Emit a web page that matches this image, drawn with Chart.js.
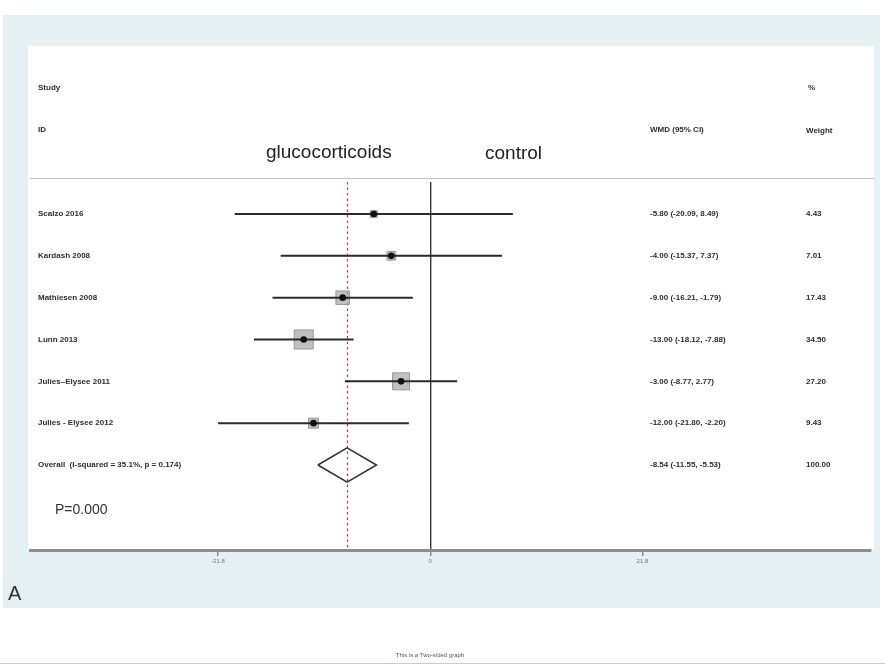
<!DOCTYPE html>
<html>
<head>
<meta charset="utf-8">
<script src="https://cdn.jsdelivr.net/npm/chart.js@4.4.1/dist/chart.umd.min.js"></script>
<style>
  html, body { margin: 0; padding: 0; background: #fff; }
  canvas { display: block; }
</style>
</head>
<body>
<canvas id="forest" width="885" height="664"></canvas>
<script>
// ---- data ----
const studies = ['Scalzo 2016', 'Kardash 2008', 'Mathiesen 2008', 'Lunn 2013', 'Julies\u2013Elysee 2011', 'Julies - Elysee 2012'];
const wmd = [-5.80, -4.00, -9.00, -13.00, -3.00, -12.00];
const ciLow = [-20.09, -15.37, -16.21, -18.12, -8.77, -21.80];
const ciHigh = [8.49, 7.37, -1.79, -7.88, 2.77, -2.20];
const weights = [4.43, 7.01, 17.43, 34.50, 27.20, 9.43];
const overallLabel = 'Overall  (I-squared = 35.1%, p = 0.174)';
const overallEst = [-8.54];
const overallLow = [-11.55];
const overallHigh = [-5.53];
const overallWeight = [100.00];
const xTicks = [-21.8, 0, 21.8];
const xTickLabels = ['-21.8', '0', '21.8'];

// row positions (1..6 studies, 7 = overall)
const rows = studies.map((s, i) => i + 1);
const overallRow = studies.length + 1;

const fmt = v => v.toFixed(2);
const ciText = (e, l, h) => fmt(e) + ' (' + fmt(l) + ', ' + fmt(h) + ')';

const boxScale = 2.3;   // point radius per sqrt(weight)
const diamondHalf = 0.41;

const boxData = rows.map((r, i) => ({ x: wmd[i], y: r }));
const dotData = rows.map((r, i) => ({ x: wmd[i], y: r }));
const diamondData = [
  { x: overallLow[0], y: overallRow },
  { x: overallEst[0], y: overallRow - diamondHalf },
  { x: overallHigh[0], y: overallRow },
  { x: overallEst[0], y: overallRow + diamondHalf },
  { x: overallLow[0], y: overallRow }
];

const FONT = '"Liberation Sans", Arial, sans-serif';

const forestPlugin = {
  id: 'forestPlugin',
  beforeDraw(chart) {
    const c = chart.ctx;
    c.save();
    c.fillStyle = '#ffffff';
    c.fillRect(0, 0, chart.width, chart.height);
    c.fillStyle = '#e4f0f1';
    c.fillRect(3, 15, 877, 593);
    c.fillStyle = '#ffffff';
    c.fillRect(28, 46, 846, 504);
    // header rule
    c.strokeStyle = '#c8c8c8';
    c.lineWidth = 1;
    c.beginPath();
    c.moveTo(30, 178.5);
    c.lineTo(874, 178.5);
    c.stroke();
    // thin pink line at the bottom
    c.strokeStyle = '#ebbcbc';
    c.beginPath();
    c.moveTo(0, 663.5);
    c.lineTo(885, 663.5);
    c.stroke();
    c.restore();
  },
  beforeDatasetsDraw(chart) {
    const c = chart.ctx;
    const xs = chart.scales.x;
    const area = chart.chartArea;
    const px = Math.round(xs.getPixelForValue(overallEst[0])) + 0.5;
    c.save();
    c.strokeStyle = '#b8453a';
    c.lineWidth = 1.2;
    c.setLineDash([2.5, 3]);
    c.beginPath();
    c.moveTo(px, area.top);
    c.lineTo(px, area.bottom);
    c.stroke();
    c.restore();
  },
  afterDatasetDraw(chart, args) {
    if (args.meta.label !== 'boxes') return;
    const c = chart.ctx;
    const xs = chart.scales.x, ys = chart.scales.y;
    c.save();
    c.strokeStyle = '#2a2a2a';
    c.lineWidth = 2;
    rows.forEach((r, i) => {
      const y = ys.getPixelForValue(r);
      c.beginPath();
      c.moveTo(xs.getPixelForValue(ciLow[i]), y);
      c.lineTo(xs.getPixelForValue(ciHigh[i]), y);
      c.stroke();
    });
    c.restore();
  },
  afterDraw(chart) {
    const c = chart.ctx;
    const ys = chart.scales.y;
    c.save();
    c.fillStyle = '#2e2e2e';
    c.textBaseline = 'middle';
    c.textAlign = 'left';
    c.font = 'bold 8px ' + FONT;
    c.fillText('Study', 38, 88);
    c.fillText('ID', 38, 130);
    c.fillText('%', 808, 88);
    c.fillText('WMD (95% CI)', 650, 130);
    c.fillText('Weight', 806, 131);

    rows.forEach((r, i) => {
      const y = ys.getPixelForValue(r);
      c.fillText(studies[i], 38, y);
      c.fillText(ciText(wmd[i], ciLow[i], ciHigh[i]), 650, y);
      c.fillText(fmt(weights[i]), 806, y);
    });
    const yo = ys.getPixelForValue(overallRow);
    c.fillText(overallLabel, 38, yo);
    c.fillText(ciText(overallEst[0], overallLow[0], overallHigh[0]), 650, yo);
    c.fillText(fmt(overallWeight[0]), 806, yo);

    c.fillStyle = '#222';
    c.font = '19px ' + FONT;
    c.textBaseline = 'alphabetic';
    c.fillText('glucocorticoids', 266, 158);
    c.fillText('control', 485, 159);

    c.font = '14px ' + FONT;
    c.textBaseline = 'middle';
    c.fillStyle = '#333';
    c.fillText('P=0.000', 55, 510);

    c.font = '20px ' + FONT;
    c.fillText('A', 8, 594);

    c.font = '6px ' + FONT;
    c.textAlign = 'center';
    c.fillStyle = '#555';
    c.fillText('This is a Two-sided graph', 430, 655);
    c.restore();
  }
};

new Chart(document.getElementById('forest'), {
  type: 'scatter',
  data: {
    datasets: [
      {
        label: 'dots',
        data: dotData,
        order: 0,
        pointStyle: 'circle',
        pointRadius: 3.3,
        backgroundColor: '#111',
        borderColor: '#111',
        borderWidth: 0
      },
      {
        label: 'diamond',
        data: diamondData,
        order: 1,
        showLine: true,
        pointRadius: 0,
        borderColor: '#333',
        borderWidth: 1.6,
        fill: false
      },
      {
        label: 'boxes',
        data: boxData,
        order: 2,
        pointStyle: 'rect',
        pointRadius: ctx => boxScale * Math.sqrt(weights[ctx.dataIndex] || 0),
        backgroundColor: 'rgba(165,165,165,0.7)',
        borderColor: '#999',
        borderWidth: 1
      }
    ]
  },
  options: {
    responsive: false,
    animation: false,
    devicePixelRatio: 1,
    layout: { padding: { left: 30, right: 10, top: 182, bottom: 94 } },
    plugins: { legend: { display: false }, tooltip: { enabled: false } },
    scales: {
      x: {
        type: 'linear',
        min: -41.13,
        max: 45.24,
        afterBuildTicks: s => { s.ticks = xTicks.map(v => ({ value: v })); },
        afterFit: s => { s.height = 20; },
        border: { display: true, color: '#8e8e8e', width: 3 },
        grid: {
          drawOnChartArea: true,
          color: ctx => (ctx.tick && ctx.tick.value === 0 ? '#3a3a3a' : 'rgba(0,0,0,0)'),
          lineWidth: 1.4,
          tickColor: '#888',
          tickLength: 6
        },
        ticks: {
          color: '#777',
          font: { size: 6, family: FONT },
          padding: 2,
          callback: (v, i) => xTickLabels[i]
        }
      },
      y: {
        type: 'linear',
        reverse: true,
        min: 0.235,
        max: 9.032,
        display: false
      }
    }
  },
  plugins: [forestPlugin]
});
</script>
</body>
</html>
